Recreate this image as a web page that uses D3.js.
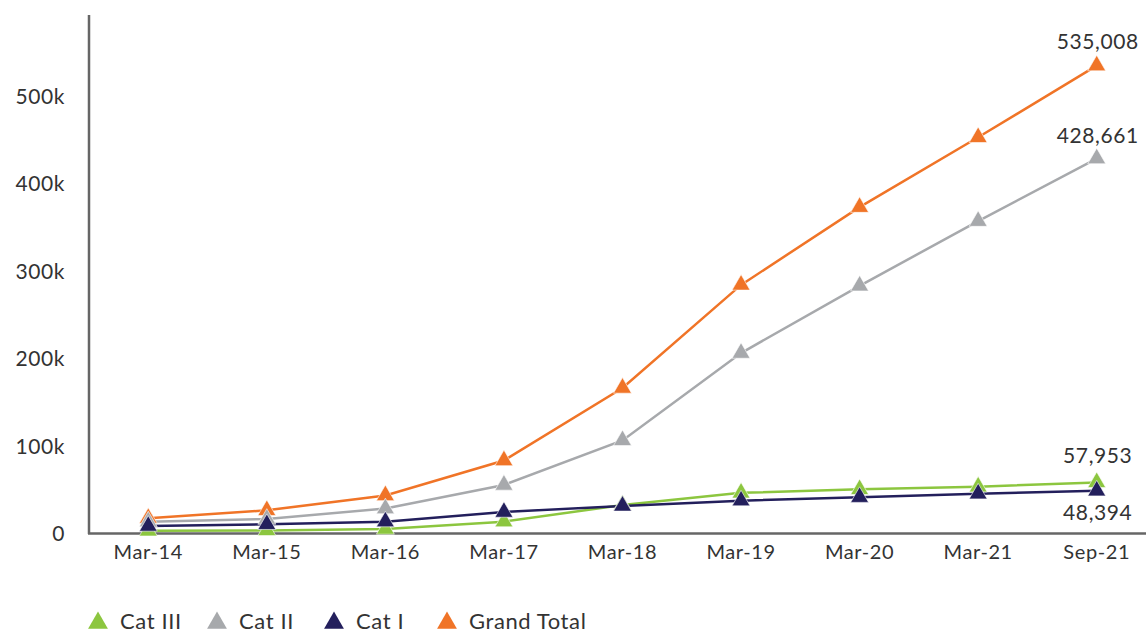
<!DOCTYPE html>
<html><head><meta charset="utf-8">
<script src="https://cdn.jsdelivr.net/npm/d3@7"></script>
<style>body{margin:0;background:#fff}text{font-family:Lato,"Open Sans",sans-serif;fill:#333;letter-spacing:0.6px}</style>
</head><body><svg id="c" width="1146" height="633"></svg>
<script>
const categories = ["Mar-14","Mar-15","Mar-16","Mar-17","Mar-18","Mar-19","Mar-20","Mar-21","Sep-21"];
const catIII = [2500, 3000, 4600, 13000, 32000, 46000, 50000, 53000, 57953];
const catII = [13000, 16000, 28000, 55000, 106000, 206000, 283000, 357000, 428661];
const catI = [8000, 10000, 13000, 24000, 31000, 37000, 41000, 45000, 48394];
const grandTotal = [17000, 26000, 43000, 83000, 166000, 284000, 373000, 453000, 535008];
const yTicks = [0, 100000, 200000, 300000, 400000, 500000];
const yTickLabels = ["0","100k","200k","300k","400k","500k"];
const seriesNames = ["Cat III","Cat II","Cat I","Grand Total"];
const seriesColors = ["#8cc63f","#a7a9ac","#231f5c","#f07427"];

const svg = d3.select("#c");
const x = d3.scaleBand().domain(categories).range([89, 1156]);
const y = d3.scaleLinear().domain([0, 593000]).range([533, 15]);
const cx = d => x(d) + x.bandwidth()/2;

// axes
svg.append("line").attr("x1",89).attr("x2",89).attr("y1",15).attr("y2",534).attr("stroke","#666").attr("stroke-width",2.5);
svg.append("line").attr("x1",88).attr("x2",1146).attr("y1",533.5).attr("y2",533.5).attr("stroke","#666").attr("stroke-width",2.5);

const yAxis = svg.append("g").attr("transform","translate(65,0)")
  .call(d3.axisLeft(y).tickValues(yTicks).tickFormat((d,i)=>yTickLabels[i]).tickSize(0).tickPadding(0));
yAxis.select(".domain").remove();
yAxis.selectAll("text").style("font-size","21px").attr("fill","#333").attr("dy","0.35em");

const xAxis = svg.append("g").attr("transform","translate(0,539)")
  .call(d3.axisBottom(x).tickSize(0).tickPadding(0));
xAxis.select(".domain").remove();
xAxis.selectAll("text").style("font-size","20px").attr("fill","#333").attr("dy","1.0em");

const data = [
  {name:"Grand Total", vals:grandTotal, color:seriesColors[3]},
  {name:"Cat II", vals:catII, color:seriesColors[1]},
  {name:"Cat III", vals:catIII, color:seriesColors[0]},
  {name:"Cat I", vals:catI, color:seriesColors[2]}
];
const line = d3.line().x((d,i)=>cx(categories[i])).y(d=>y(d));
const tri = d3.symbol().type(d3.symbolTriangle).size(140);
data.forEach(s=>{
  svg.append("path").attr("d", line(s.vals)).attr("fill","none").attr("stroke",s.color).attr("stroke-width",2.5);
});
data.forEach(s=>{
  svg.append("g").selectAll("path").data(s.vals).join("path")
    .attr("d", tri).attr("transform",(d,i)=>`translate(${cx(categories[i])},${y(d)})`)
    .attr("fill", s.color).attr("stroke","#fff").attr("stroke-width",0.6);
});

// end labels
const last = categories.length-1;
const lbl = (v, dy) => svg.append("text").attr("x", cx(categories[last])+1).attr("y", y(v)+dy)
  .attr("text-anchor","middle").style("font-size","21px").text(d3.format(",")(v));
lbl(grandTotal[last], -17);
lbl(catII[last], -16);
lbl(catIII[last], -19);
lbl(catI[last], 29);

// legend
const legX = [98, 217, 334, 447];
seriesNames.forEach((n,i)=>{
  svg.append("path").attr("d", d3.symbol().type(d3.symbolTriangle).size(170)())
    .attr("transform",`translate(${legX[i]},${623})`).attr("fill",seriesColors[i]);
  svg.append("text").attr("x", legX[i]+22).attr("y", 629).style("font-size","22px").text(n);
});
</script></body></html>
